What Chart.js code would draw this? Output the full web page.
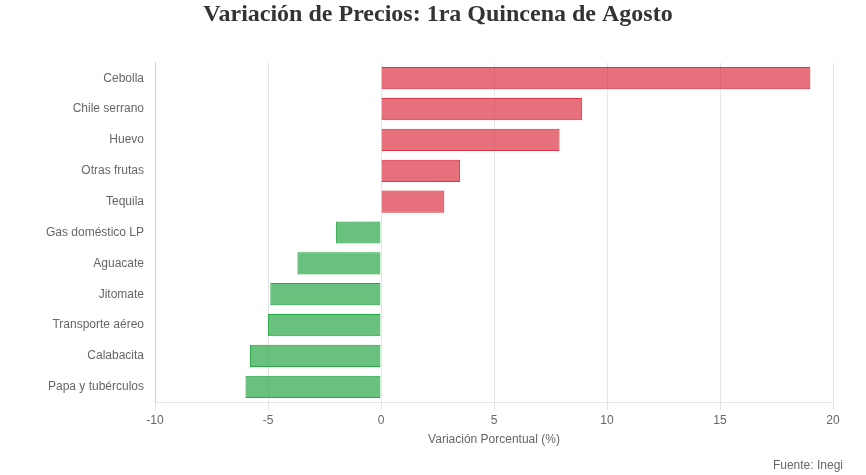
<!DOCTYPE html>
<html lang="es">
<head>
<meta charset="utf-8">
<title>Variación de Precios</title>
<script src="https://cdn.jsdelivr.net/npm/chart.js@4"></script>
<style>
    html, body { margin: 0; padding: 0; background: #fff; }
    .chart-wrap { position: relative; width: 866px; height: 475px; }
    .fuente {
        position: absolute; right: 23px; bottom: 3px;
        font: 12px "Liberation Sans", Arial, sans-serif; color: #666;
    }
</style>
</head>
<body>
<div class="chart-wrap">
    <canvas id="preciosChart"></canvas>
    <div class="fuente">Fuente: Inegi</div>
</div>
<script>
// Datos de la gráfica
const productos = ['Cebolla', 'Chile serrano', 'Huevo', 'Otras frutas', 'Tequila',
    'Gas doméstico LP', 'Aguacate', 'Jitomate', 'Transporte aéreo', 'Calabacita', 'Papa y tubérculos'];
const variacion = [19.0, 8.9, 7.9, 3.5, 2.8, -2.0, -3.7, -4.9, -5.0, -5.8, -6.0];
const xTicks = [-10, -5, 0, 5, 10, 15, 20];

const rojo = 'rgba(220, 53, 69, 0.7)';
const rojoBorde = 'rgba(220, 53, 69, 1)';
const verde = 'rgba(40, 167, 69, 0.7)';
const verdeBorde = 'rgba(40, 167, 69, 1)';
const fuenteEjes = { family: '"Liberation Sans", Arial, sans-serif', size: 12 };

document.addEventListener('DOMContentLoaded', function() {
    const ctx = document.getElementById('preciosChart');
    new Chart(ctx, {
        type: 'bar',
        data: {
            labels: productos,
            datasets: [{
                label: 'Variación (%)',
                data: variacion,
                backgroundColor: variacion.map(v => v >= 0 ? rojo : verde),
                borderColor: variacion.map(v => v >= 0 ? rojoBorde : verdeBorde),
                borderWidth: 1
            }]
        },
        options: {
            indexAxis: 'y',
            responsive: true,
            maintainAspectRatio: false,
            animation: false,
            layout: {
                padding: { left: 43, right: 33, top: 0, bottom: 24 }
            },
            plugins: {
                legend: { display: false },
                tooltip: { enabled: false },
                title: {
                    display: true,
                    text: 'Variación de Precios: 1ra Quincena de Agosto',
                    color: '#333',
                    font: { family: '"Liberation Serif", serif', size: 24, weight: 'bold' },
                    padding: { top: 0, bottom: 34 }
                }
            },
            scales: {
                x: {
                    min: -10,
                    max: 20,
                    afterBuildTicks: axis => { axis.ticks = xTicks.map(v => ({ value: v })); },
                    ticks: { color: '#666', font: fuenteEjes },
                    grid: { color: '#e5e5e5' },
                    title: {
                        display: true,
                        text: 'Variación Porcentual (%)',
                        color: '#666',
                        font: fuenteEjes,
                        padding: { top: 2, bottom: 4 }
                    }
                },
                y: {
                    ticks: { color: '#666', font: fuenteEjes, padding: 3 },
                    grid: { display: false },
                    border: { color: '#ccc' }
                }
            }
        }
    });
});
</script>
</body>
</html>
